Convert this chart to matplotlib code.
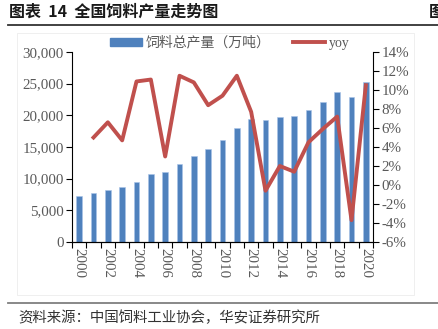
import numpy as np
import matplotlib.pyplot as plt
from matplotlib.lines import Line2D
from matplotlib.patches import Rectangle

plt.rcParams['font.family'] = ['Liberation Serif', 'Noto Sans CJK SC', 'DejaVu Sans']

# data
years = list(range(2000, 2021))
output = [7310, 7690, 8210, 8680, 9530, 10690, 11000, 12260, 13580, 14740,
          16160, 18000, 19420, 19320, 19690, 19950, 20840, 22110, 23740, 22840, 25260]
yoy = [np.nan, 5.0, 6.6, 4.7, 10.9, 11.1, 3.0, 11.5, 10.8, 8.4,
       9.4, 11.5, 7.7, -0.6, 2.0, 1.4, 4.5, 5.9, 7.2, -3.7, 10.5]
left_ticks = [0, 5000, 10000, 15000, 20000, 25000, 30000]
right_ticks = list(range(-6, 15, 2))

bar_color = '#4F81BD'
line_color = '#C0504D'
label_color = '#595959'
cjk = ['Noto Sans CJK SC', 'DejaVu Sans']

W, H = 439, 329
fig = plt.figure(figsize=(W / 100, H / 100), dpi=100)

# title, rules and faint frame
fig.text(9 / W, 1 - 12 / H, '图表  14  全国饲料产量走势图', family=cjk, fontsize=11.5,
         fontweight='bold', va='center', ha='left', color='#1a1a1a')
# second title is cut off at the right edge in the reference too
fig.text(429 / W, 1 - 12 / H, '图', family=cjk, fontsize=11.5,
         fontweight='bold', va='center', ha='left', color='#1a1a1a')
fig.add_artist(Line2D([8 / W, 1], [1 - 25 / H] * 2, color='#333333', lw=1.3))
fig.add_artist(Line2D([8 / W, 1], [1 - 303 / H] * 2, color='#7f7f7f', lw=1.3))
fig.add_artist(Rectangle((17 / W, 1 - 295 / H), 397 / W, 262 / H, fill=False,
                         ec='#ececec', lw=0.6, transform=fig.transFigure))
fig.text(18 / W, 1 - 318 / H, '资料来源：中国饲料工业协会，华安证券研究所', family=cjk,
         fontsize=10.4, va='center', ha='left', color='#333333')

ax = fig.add_axes([72 / W, 1 - 242 / H, 301 / W, 190 / H])
x = np.arange(len(years))
ax.bar(x, output, width=0.38, color=bar_color, edgecolor='#a9c4e8', linewidth=0.4, zorder=2)
ax.set_xlim(-0.5, len(years) - 0.5)
ax.set_ylim(0, 30000)
ax.set_yticks(left_ticks)
ax.set_yticklabels([f'{v:,}' for v in left_ticks])
ax.set_xticks(x[::2])
ax.set_xticklabels([str(y) for y in years[::2]], rotation=-90)
ax.set_xticks(np.arange(-0.5, len(years), 1), minor=True)
ax.tick_params(axis='x', which='major', length=0, pad=4)
ax.tick_params(axis='x', which='minor', length=4, width=0.8, direction='out')
ax.tick_params(axis='y', length=4, width=0.8, direction='out', pad=2)
ax.tick_params(labelsize=10.8, labelcolor=label_color)
ax.spines['top'].set_visible(False)
ax.spines['right'].set_visible(False)

ax2 = ax.twinx()
ax2.plot(x, yoy, color=line_color, lw=2.8, zorder=3)
ax2.set_ylim(-6, 14)
ax2.set_yticks(right_ticks)
ax2.set_yticklabels([f'{v}%' for v in right_ticks])
ax2.tick_params(axis='y', length=4, width=0.8, direction='out', pad=2,
                labelsize=10.8, labelcolor=label_color)
ax2.spines['top'].set_visible(False)
ax2.spines['left'].set_visible(False)

handles = [Rectangle((0, 0), 1, 1, color=bar_color), Line2D([], [], color=line_color, lw=2.8)]
fig.legend(handles, ['饲料总产量（万吨）', 'yoy'], loc='center',
           bbox_to_anchor=(230 / W, 1 - 43 / H), ncol=2, frameon=False,
           fontsize=10, labelcolor=label_color, handlelength=2.3, handleheight=0.5,
           columnspacing=1.6, handletextpad=0.3)

fig.savefig('out.png', dpi=100)
